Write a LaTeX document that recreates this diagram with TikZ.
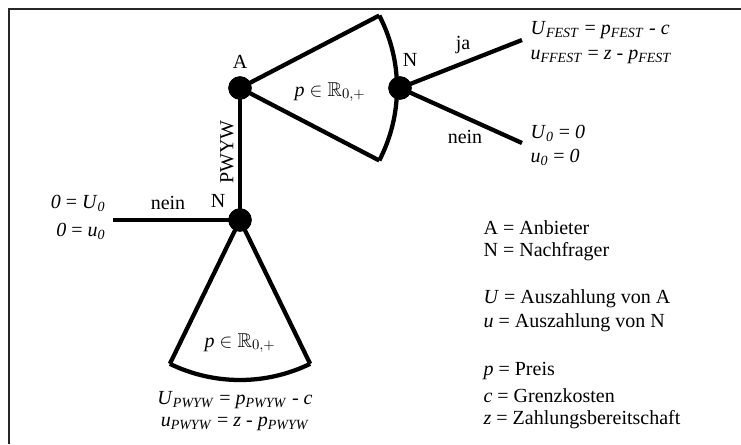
\documentclass[tikz,border=0pt]{standalone}
\usepackage{fontspec}
\setmainfont{Liberation Serif}
\usepackage{amssymb}
\newcommand{\ivar}[1]{\textit{#1}}
\newcommand{\isub}[1]{\textsubscript{\textit{#1}}}
\begin{document}
\begin{tikzpicture}[x=0.75pt,y=-0.75pt,
  font=\fontsize{15}{18}\selectfont,
  edge/.style={line width=3.2pt},
  dot/.style={circle, fill=black, minimum size=17.5pt, inner sep=0pt},
  lbl/.style={inner sep=1pt},
  frame/.style={line width=1.5pt, black!85}]
\useasboundingbox (0,0) rectangle (741,444);
\draw[frame] (9,444) -- (9,9) -- (741,9);

% nodes
\node[dot] (A) at (240,88) {};
\node[dot] (N1) at (400,88) {};
\node[dot] (N2) at (240,220) {};

% wedge corners and leaf ends
\path (A.center) ++(-27.5:157) coordinate (w1);
\path (A.center) ++(27.5:157) coordinate (w2);
\path (N2.center) ++(116:160) coordinate (v1);
\path (N2.center) ++(64:160) coordinate (v2);
\coordinate (ja) at (522,40);
\coordinate (n1) at (522,143);
\coordinate (n2) at (113,220);

% upper wedge
\draw[edge, line join=round] (w1) -- (A.center) -- (w2);
\draw[edge] (w1) arc[start angle=-27.5, end angle=27.5, radius=157];
% lower wedge
\draw[edge, line join=round] (v1) -- (N2.center) -- (v2);
\draw[edge] (v2) arc[start angle=64, end angle=116, radius=160];

% edges
\draw[edge] (A.center) -- (N2.center);
\draw[edge] (N1.center) -- (ja);
\draw[edge] (N1.center) -- (n1);
\draw[edge] (N2.center) -- (n2);

% redraw dots on top
\node[dot] at (A) {};
\node[dot] at (N1) {};
\node[dot] at (N2) {};

% labels
\node[lbl] (lA) at (240,62) {A};
\node[lbl] (lN1) at (410,60) {N};
\node[lbl] (lN2) at (218,201) {N};
\node[lbl, rotate=90] (lPW) at (227,152) {PWYW};
\node[lbl] (lp1) at (330,92) {\ivar{p} $\in \mathbb{R}_{0,+}$};
\node[lbl] (lp2) at (240,343) {\ivar{p} $\in \mathbb{R}_{0,+}$};
\node[lbl] (lja) at (463,45) {ja};
\node[lbl] (lnein1) at (465,137) {nein};
\node[lbl] (lnein2) at (168,203) {nein};

\node[lbl, anchor=west] (e1) at (529,30) {\ivar{U}\isub{FEST} = \ivar{p}\isub{FEST} - \ivar{c}};
\node[lbl, anchor=west] (e2) at (529,57) {\ivar{u}\isub{FFEST} = \ivar{z} - \ivar{p}\isub{FEST}};
\node[lbl, anchor=west] (e3) at (529,133) {\ivar{U}\isub{0} = \ivar{0}};
\node[lbl, anchor=west] (e4) at (529,157) {\ivar{u}\isub{0} = \ivar{0}};
\node[lbl, anchor=east] (e5) at (107,203) {\ivar{0} = \ivar{U}\isub{0}};
\node[lbl, anchor=east] (e6) at (107,231) {\ivar{0} = \ivar{u}\isub{0}};
\node[lbl] (e7) at (235,400) {\ivar{U}\isub{PWYW} = \ivar{p}\isub{PWYW} - \ivar{c}};
\node[lbl] (e8) at (235,424) {\ivar{u}\isub{PWYW} = \ivar{z} - \ivar{p}\isub{PWYW}};

% legend
\begin{scope}[every node/.style={lbl, anchor=west}]
\node (g1) at (482,228) {A = Anbieter};
\node (g2) at (482,252) {N = Nachfrager};
\node (g3) at (482,299) {\ivar{U} = Auszahlung von A};
\node (g4) at (482,323) {\ivar{u} = Auszahlung von N};
\node (g5) at (482,371) {\ivar{p} = Preis};
\node (g6) at (482,396) {\ivar{c} = Grenzkosten};
\node (g7) at (482,420) {\ivar{z} = Zahlungsbereitschaft};
\end{scope}
\end{tikzpicture}
\end{document}
